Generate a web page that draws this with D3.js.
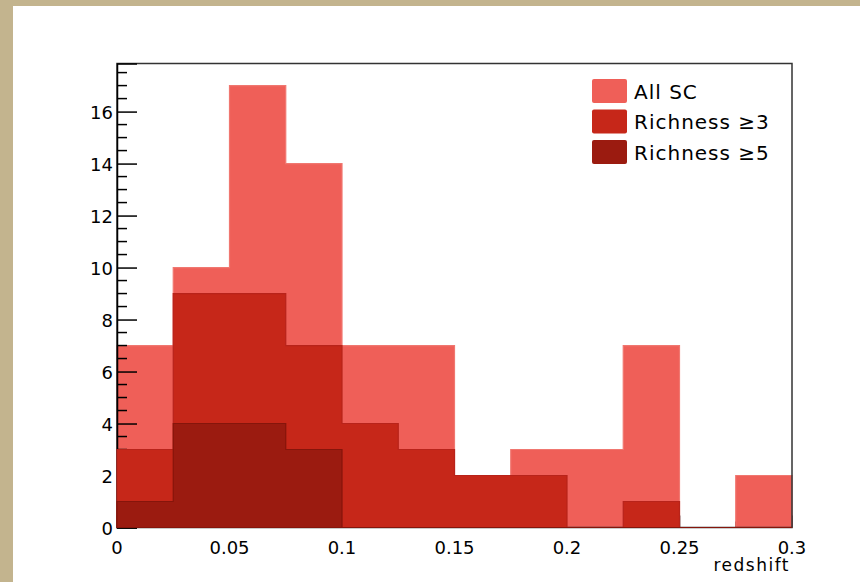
<!DOCTYPE html>
<html><head><meta charset="utf-8">
<script src="https://cdn.jsdelivr.net/npm/d3@7"></script>
<style>body{margin:0;background:#C3B48E;}svg{display:block;}</style>
</head><body>
<svg id="c" width="860" height="582"></svg>
<script>
const binEdges = [0,0.025,0.05,0.075,0.1,0.125,0.15,0.175,0.2,0.225,0.25,0.275,0.3];
const allSC = [7,10,17,14,7,7,2,3,3,7,0,2];
const rich3 = [3,9,9,7,4,3,2,2,0,1,0,0];
const rich5 = [1,4,4,3,0,0,0,0,0,0,0,0];
const seriesNames = ["All SC","Richness \u22653","Richness \u22655"];
const xTickValues = [0,0.05,0.1,0.15,0.2,0.25,0.3];
const xTickLabels = ["0","0.05","0.1","0.15","0.2","0.25","0.3"];
const yTickValues = [0,2,4,6,8,10,12,14,16];
const colors = ["#EF5F58","#C62719","#9B1B10"];
const strokes = ["#F07770","#B8231A","#86150B"];

const svg = d3.select("#c");
svg.append("rect").attr("x",13).attr("y",6).attr("width",847).attr("height",576).attr("fill","#fff");

const x = d3.scaleLinear().domain([0,0.3]).range([117,792]);
const y = d3.scaleLinear().domain([0,17.85]).range([527.5,63.5]);

function stepPath(vals){
  const p = d3.path();
  p.moveTo(x(binEdges[0]), y(0));
  vals.forEach((v,i)=>{ p.lineTo(x(binEdges[i]), y(v)); p.lineTo(x(binEdges[i+1]), y(v)); });
  p.lineTo(x(binEdges[binEdges.length-1]), y(0));
  p.closePath();
  return p.toString();
}
function drawHist(vals, k){
  svg.append("path").attr("d", stepPath(vals)).attr("fill", colors[k])
    .attr("stroke", strokes[k]).attr("stroke-width",1.2);
}

const font = "DejaVu Sans, sans-serif";

// x ticks (largely hidden under bars)
const gx = svg.append("g");
d3.range(0,12.5).forEach(i=>{
  const v = i*0.025; const major = i%2===0;
  gx.append("line").attr("x1",x(v)).attr("x2",x(v)).attr("y1",y(0)).attr("y2",y(0)-(major?12:6))
    .attr("stroke","#000").attr("stroke-width",1.5);
});

drawHist(allSC,0);

svg.append("rect").attr("x",117).attr("y",63.5).attr("width",675).attr("height",464)
  .attr("fill","none").attr("stroke","#333").attr("stroke-width",1.5);

const yAxis = d3.axisRight(y).tickValues(yTickValues).tickSize(20).tickFormat("");
const gy = svg.append("g").attr("transform","translate(117,0)").call(yAxis);
gy.select(".domain").attr("stroke","#000").attr("stroke-width",1.5);
gy.selectAll(".tick line").attr("stroke","#000").attr("stroke-width",1.5);
d3.range(0,17.9,0.5).filter(v=>v%2!==0).forEach(v=>{
  gy.append("line").attr("x1",0).attr("x2",10).attr("y1",y(v)).attr("y2",y(v))
    .attr("stroke","#000").attr("stroke-width",1.5);
});

drawHist(rich3,1);
drawHist(rich5,2);

yTickValues.forEach(v=>{
  svg.append("text").attr("x",113).attr("y",y(v)+7).attr("text-anchor","end")
    .attr("font-family",font).attr("font-size",18).attr("fill","#000").text(v);
});
xTickValues.forEach((v,i)=>{
  svg.append("text").attr("x",x(v)).attr("y",554).attr("text-anchor","middle")
    .attr("font-family",font).attr("font-size",18).attr("fill","#000").text(xTickLabels[i]);
});
svg.append("text").attr("x",790).attr("y",571).attr("text-anchor","end")
  .attr("font-family",font).attr("font-size",17).attr("letter-spacing",1.5).attr("fill","#000").text("redshift");

seriesNames.forEach((n,i)=>{
  const cy = 91 + i*30.5;
  svg.append("rect").attr("x",592).attr("y",cy-12).attr("width",35).attr("height",24)
    .attr("rx",2).attr("fill",colors[i]);
  svg.append("text").attr("x",634).attr("y",cy+7.5).attr("font-family",font)
    .attr("font-size",20).attr("letter-spacing",1).attr("fill","#000").text(n);
});
</script>
</body></html>
